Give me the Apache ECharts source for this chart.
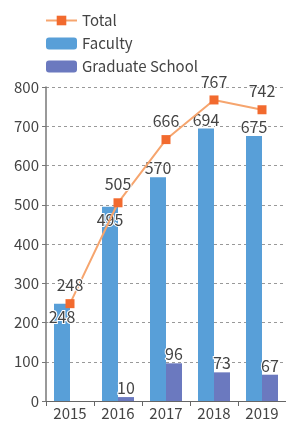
<!DOCTYPE html>
<html><head><meta charset="utf-8">
<script src="https://cdn.jsdelivr.net/npm/echarts@6/dist/echarts.min.js"></script>
<style>html,body{margin:0;padding:0;background:#fff}#c{width:286px;height:423px}</style>
</head><body><div id="c"></div>
<script>
var categories = ['2015','2016','2017','2018','2019'];
var faculty = [248, 495, 570, 694, 675];
var graduate = [null, 10, 96, 73, 67];
var total = [248, 505, 666, 767, 742];
var yTicks = [0,100,200,300,400,500,600,700,800];

var FONT = '"Noto Sans CJK JP", "Noto Sans", sans-serif';
var insideIdx = [0, 1];
var chart = echarts.init(document.getElementById('c'), null, {renderer:'canvas'});
chart.setOption({
  animation:false,
  textStyle:{fontFamily:FONT},
  legend:{
    orient:'vertical', left:40, top:8, itemWidth:31, itemHeight:12, itemGap:8,
    textStyle:{fontSize:15, color:'#444', fontFamily:FONT},
    data:['Total','Faculty','Graduate School']
  },
  grid:{left:46, right:-6, top:87, bottom:22, containLabel:false},
  xAxis:{
    type:'category', data:categories,
    axisLine:{lineStyle:{color:'#666'}},
    axisTick:{show:true, lineStyle:{color:'#666'}},
    axisLabel:{fontSize:15, color:'#444', margin:5, fontFamily:FONT}
  },
  yAxis:{
    type:'value', min:yTicks[0], max:yTicks[yTicks.length-1], interval:100,
    axisLine:{show:true, lineStyle:{color:'#777', width:1.5}},
    axisTick:{show:true, length:4, lineStyle:{color:'#777'}},
    splitLine:{lineStyle:{type:[3,3], color:'#999'}},
    axisLabel:{fontSize:15, color:'#444', margin:7, fontFamily:FONT}
  },
  series:[
    {name:'Faculty', type:'bar', barWidth:16, barGap:0,
     itemStyle:{color:'#589fd8'},
     label:{show:true, position:'top', distance:1, fontSize:16, color:'#444', textBorderColor:'#fff', textBorderWidth:2, fontFamily:FONT},
     data:faculty.map(function(v,i){
       return insideIdx.indexOf(i)>=0 ? {value:v, label:{position:'insideTop', distance:5}} : v;
     }), z:2},
    {name:'Graduate School', type:'bar', barWidth:16, barGap:0,
     itemStyle:{color:'#6b79bf'},
     label:{show:true, position:'top', distance:1, fontSize:16, color:'#444', textBorderColor:'#fff', textBorderWidth:2, fontFamily:FONT},
     data:graduate, z:2},
    {name:'Total', type:'line', data:total,
     symbol:'rect', symbolSize:9,
     lineStyle:{color:'#f6a56e', width:2},
     itemStyle:{color:'#f26a2e'},
     label:{show:true, position:'top', distance:6, fontSize:16, color:'#444', textBorderColor:'#fff', textBorderWidth:2, fontFamily:FONT},
     z:3}
  ]
});
</script></body></html>
